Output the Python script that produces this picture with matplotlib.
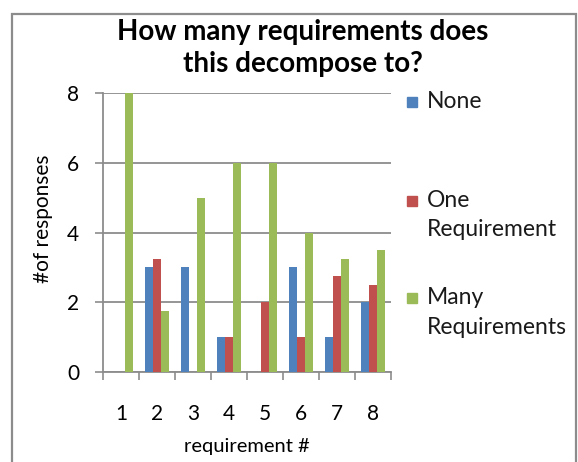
import numpy as np
import matplotlib.pyplot as plt
from matplotlib.patches import Rectangle

plt.rcParams['font.family'] = ['Lato', 'DejaVu Sans']

# Responses per requirement
requirements = ['1', '2', '3', '4', '5', '6', '7', '8']
none = [0, 3, 3, 1, 0, 3, 1, 2]
one_req = [0, 3.25, 0, 1, 2, 1, 2.75, 2.5]
many_req = [8, 1.75, 5, 6, 6, 4, 3.25, 3.5]

series = [
    ('None', none, '#4F81BD'),
    ('One\nRequirement', one_req, '#C0504D'),
    ('Many\nRequirements', many_req, '#9BBB59'),
]

W, H = 578, 462
fig = plt.figure(figsize=(W / 100, H / 100), dpi=100)
ax = fig.add_axes([103 / W, 1 - 372 / H, 288 / W, 279 / H])

# Chart area border
fig.patches.append(Rectangle((12 / W, -0.05), 564 / W, 1 - 14 / H + 0.05,
                             transform=fig.transFigure, fill=False,
                             edgecolor='#8c8c8c', linewidth=1.6))

x = np.arange(1, len(requirements) + 1)
w = 0.215
for i, (label, vals, color) in enumerate(series):
    ax.bar(x + (i - 1) * w, vals, width=w, color=color, label=label, zorder=3)

ax.set_xlim(0.5, 8.5)
ax.set_ylim(0, 8)
ax.set_yticks([0, 2, 4, 6, 8])
ax.set_xticks(x)
ax.set_xticklabels(requirements)
ax.set_xticks(np.arange(0.5, 9, 1), minor=True)
ax.tick_params(axis='x', which='major', length=0, pad=23, labelsize=15)
ax.tick_params(axis='x', which='minor', length=6, color='#8c8c8c', width=1.2)
ax.tick_params(axis='y', length=6, color='#8c8c8c', width=1.2, pad=11, labelsize=15)

ax.grid(axis='y', color='#8c8c8c', linewidth=1.3, zorder=0)
for side in ('top', 'right'):
    ax.spines[side].set_visible(False)
for side in ('left', 'bottom'):
    ax.spines[side].set_color('#8c8c8c')
    ax.spines[side].set_linewidth(1.3)

ax.set_xlabel('requirement #', fontsize=14.5, labelpad=10)
ax.set_ylabel('#of responses', fontsize=15)
ax.yaxis.set_label_coords(-0.175, 0.55)
fig.text(303 / W, 1 - 19 / H, 'How many requirements does\nthis decompose to?',
         ha='center', va='top', fontsize=20, fontweight='bold',
         linespacing=1.28, multialignment='center')

# Legend: square swatch beside the first line of each label
legend_tops = [91, 190, 287]
for (label, vals, color), top in zip(series, legend_tops):
    fig.patches.append(Rectangle((407 / W, 1 - (top + 16) / H), 10 / W, 10 / H,
                                 transform=fig.transFigure, color=color))
    fig.text(427 / W, 1 - top / H, label, ha='left', va='top', fontsize=16.5,
             linespacing=1.5, color='#1a1a1a')

fig.savefig('out.png', dpi=100)
